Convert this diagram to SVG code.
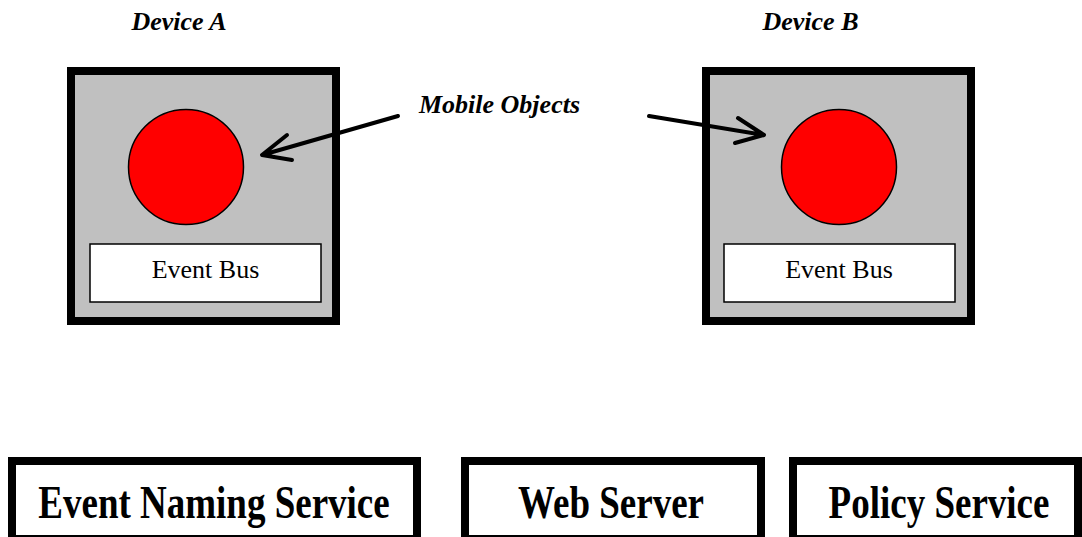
<svg xmlns="http://www.w3.org/2000/svg" width="1082" height="537" viewBox="0 0 1082 537">
<style>
.dev{fill:#c0c0c0;stroke:#000;stroke-width:8}
.obj{fill:#ff0000;stroke:#000;stroke-width:1.5}
.bus{fill:#fff;stroke:#000;stroke-width:1.5}
.svc{fill:#fff;stroke:#000;stroke-width:8}
.t{font-family:"Liberation Serif","Times New Roman",serif;fill:#000;text-anchor:middle}
.bi{font-weight:bold;font-style:italic;font-size:26px}
.reg{font-size:26px}
.big{font-weight:bold;font-size:37px}
.arr{fill:none;stroke:#000;stroke-width:4;stroke-linecap:round;stroke-linejoin:round}
</style>
<rect width="1082" height="537" fill="#fff"/>
<g id="deviceA">
<rect class="dev" x="71" y="71" width="265" height="250"/>
<circle class="obj" cx="186" cy="167" r="57.5"/>
<rect class="bus" x="90" y="244" width="231" height="58"/>
<text class="t reg" x="205.5" y="278">Event Bus</text>
<text class="t bi" x="179" y="30">Device A</text>
</g>
<g id="deviceB">
<rect class="dev" x="706" y="71" width="265" height="250"/>
<circle class="obj" cx="839" cy="167" r="57.5"/>
<rect class="bus" x="724" y="244" width="231" height="58"/>
<text class="t reg" x="839" y="278">Event Bus</text>
<text class="t bi" x="810.5" y="30">Device B</text>
</g>
<g id="label">
<text class="t bi" x="499.5" y="113">Mobile Objects</text>
</g>
<g id="connectors">
<path class="arr" d="M398,116 L262,155 M287,135 L262,155 L292,160"/>
<path class="arr" d="M649,116 L764,135 M738,118 L764,135 L735,143"/>
</g>
<g id="ens">
<rect class="svc" x="12" y="461" width="405" height="78"/>
<text class="t big" transform="translate(214,518) scale(1,1.28)">Event Naming Service</text>
</g>
<g id="web">
<rect class="svc" x="465" y="461" width="296" height="78"/>
<text class="t big" transform="translate(611,518) scale(1,1.28)">Web Server</text>
</g>
<g id="policy">
<rect class="svc" x="793" y="461" width="285" height="78"/>
<text class="t big" transform="translate(939,518) scale(1,1.28)">Policy Service</text>
</g>
</svg>
